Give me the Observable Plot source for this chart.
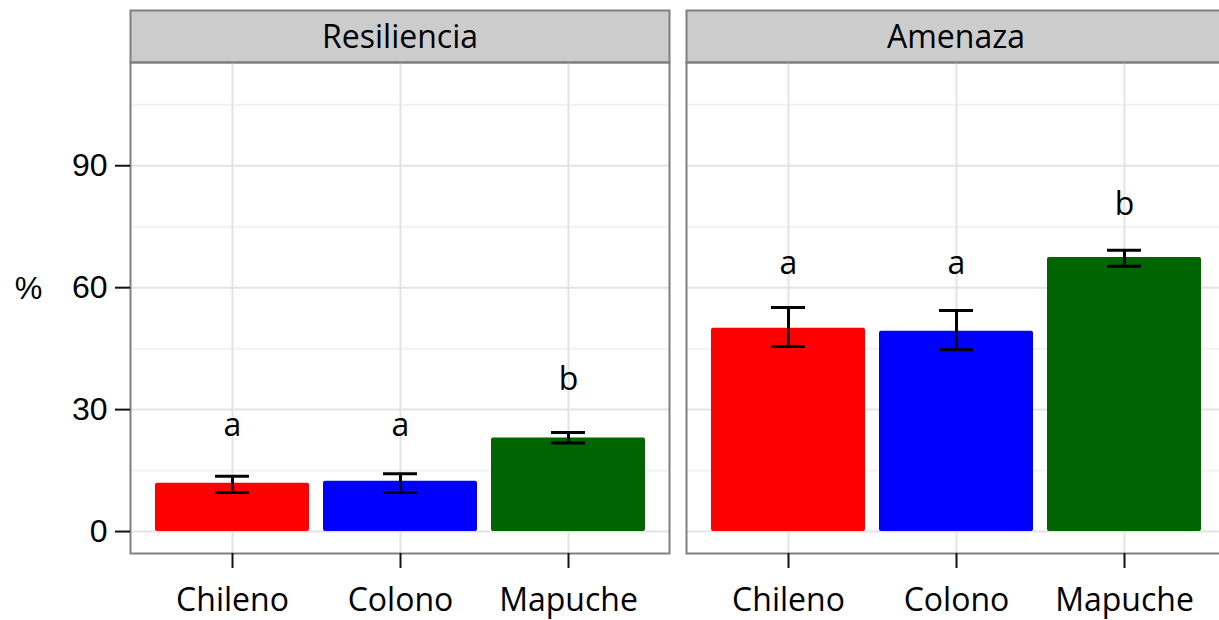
<!DOCTYPE html>
<html>
<head>
<meta charset="utf-8">
<script src="https://cdn.jsdelivr.net/npm/d3@7"></script>
<script src="https://cdn.jsdelivr.net/npm/@observablehq/plot@0.6"></script>
<style>
  html, body { margin: 0; padding: 0; overflow: hidden; background: white; }
</style>
</head>
<body>
<div id="chart"></div>
<script>
// ---- data ----
const panels = ["Resiliencia", "Amenaza"];
const groups = ["Chileno", "Colono", "Mapuche"];
const resMean = [11.9, 12.4, 23.0];
const resLo   = [9.6, 9.6, 21.8];
const resHi   = [13.6, 14.2, 24.4];
const amenMean = [50.0, 49.3, 67.4];
const amenLo   = [45.5, 44.7, 65.3];
const amenHi   = [55.1, 54.4, 69.2];
const resLetters  = ["a", "a", "b"];
const amenLetters = ["a", "a", "b"];
const resLetterY  = [23.6, 23.6, 34.9];
const amenLetterY = [63.4, 63.4, 78.0];
const yTicks = [0, 30, 60, 90];
const yMinorTicks = [15, 45, 75, 105];
const groupColors = ["#ff0000", "#0000ff", "#006400"];

const series = {
  Resiliencia: {mean: resMean, lo: resLo, hi: resHi, letter: resLetters, ly: resLetterY},
  Amenaza: {mean: amenMean, lo: amenLo, hi: amenHi, letter: amenLetters, ly: amenLetterY}
};
const rows = panels.flatMap(p => groups.map((g, i) => ({
  panel: p, group: g,
  value: series[p].mean[i], lo: series[p].lo[i], hi: series[p].hi[i],
  letter: series[p].letter[i], ly: series[p].ly[i]
})));

const font = "'Open Sans', 'Noto Sans', sans-serif";
const arial = "'Liberation Sans', Arial, sans-serif";
const grid = "#e3e3e3";

const chart = Plot.plot({
  width: 1225,
  height: 620,
  marginTop: 62,
  marginBottom: 67,
  marginLeft: 130,
  marginRight: 0,
  style: {maxWidth: "none", color: "black", background: "white"},
  fx: {domain: panels, paddingInner: 0.0306, paddingOuter: 0, label: null},
  x: {domain: groups, paddingInner: 0.085, paddingOuter: 0.145, label: null},
  y: {domain: [-5.4, 115.4], label: null},
  color: {domain: groups, range: groupColors},
  marks: [
    // strip header background
    Plot.frame({fill: "#cccccc", stroke: "#7f7f7f", strokeWidth: 2, insetTop: -52, insetBottom: 491}),
    Plot.gridY(yMinorTicks, {stroke: "#f2f2f2", strokeOpacity: 1, strokeWidth: 2}),
    Plot.gridY(yTicks, {stroke: grid, strokeOpacity: 1, strokeWidth: 2}),
    Plot.gridX({stroke: grid, strokeOpacity: 1, strokeWidth: 2}),
    Plot.barY(rows, {fx: "panel", x: "group", y: "value", fill: "group", rx: 2}),
    Plot.ruleX(rows, {fx: "panel", x: "group", y1: "lo", y2: "hi", stroke: "black", strokeWidth: 3}),
    Plot.tickY(rows, {fx: "panel", x: "group", y: "lo", stroke: "black", strokeWidth: 3, insetLeft: 60, insetRight: 60}),
    Plot.tickY(rows, {fx: "panel", x: "group", y: "hi", stroke: "black", strokeWidth: 3, insetLeft: 60, insetRight: 60}),
    Plot.text(rows, {fx: "panel", x: "group", y: "ly", text: "letter", lineAnchor: "bottom",
      fontSize: 32, fontFamily: font, fill: "black"}),
    Plot.frame({stroke: "#7f7f7f", strokeWidth: 2}),
    Plot.axisFx({anchor: "top", tickSize: 0, tickPadding: 15, fontSize: 32, fontFamily: font, label: null}),
    Plot.axisX({tickSize: 15, tickPadding: 20, fontSize: 32, fontFamily: font, strokeWidth: 2, stroke: "#111", label: null}),
    Plot.axisY({ticks: yTicks, tickSize: 15, tickPadding: 8, fontSize: 32,
      fontFamily: arial, strokeWidth: 2, stroke: "#111", label: null}),
    Plot.text([{panel: "Resiliencia", t: "%"}], {fx: "panel", text: "t", frameAnchor: "left",
      dx: -102, dy: -19, textAnchor: "middle", fontSize: 31, fontFamily: arial, fill: "black"})
  ]
});
document.getElementById("chart").appendChild(chart);
</script>
</body>
</html>
